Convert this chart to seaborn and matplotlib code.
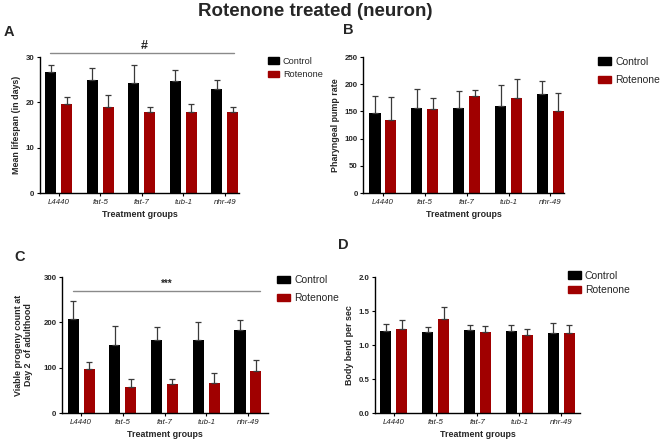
import numpy as np
import pandas as pd
import matplotlib
matplotlib.use("Agg")
import matplotlib.pyplot as plt
import seaborn as sns
from matplotlib.patches import Patch

sns.set_theme(style="ticks")
plt.rcParams["font.family"] = ["Liberation Sans", "DejaVu Sans"]

# ------------------------------
# Data
# ------------------------------
groups = ["L4440", "fat-5", "fat-7", "tub-1", "nhr-49"]
treatments = ["Control", "Rotenone"]
colors = {"Control": "#000000", "Rotenone": "#A00000"}

# A - mean lifespan
lifespan_ctrl = [26.7, 25.0, 24.3, 24.6, 22.9]
lifespan_ctrl_err = [1.5, 2.6, 3.9, 2.5, 2.0]
lifespan_rot = [19.6, 19.0, 17.9, 17.9, 17.9]
lifespan_rot_err = [1.6, 2.6, 1.1, 1.8, 1.1]

# B - pharyngeal pumping
pump_ctrl = [148, 156, 157, 160, 182]
pump_ctrl_err = [30, 36, 31, 39, 23]
pump_rot = [135, 155, 178, 175, 151]
pump_rot_err = [41, 19, 11, 35, 33]

# C - viable progeny
progeny_ctrl = [207, 151, 160, 160, 182]
progeny_ctrl_err = [41, 40, 30, 40, 24]
progeny_rot = [96, 57, 65, 66, 92]
progeny_rot_err = [16, 18, 11, 23, 25]

# D - body bends
bend_ctrl = [1.20, 1.19, 1.22, 1.21, 1.17]
bend_ctrl_err = [0.11, 0.08, 0.07, 0.08, 0.15]
bend_rot = [1.24, 1.38, 1.19, 1.14, 1.18]
bend_rot_err = [0.13, 0.18, 0.09, 0.09, 0.11]


def make_df(ctrl, ctrl_err, rot, rot_err):
    return pd.DataFrame({
        "group": groups * 2,
        "treatment": ["Control"] * 5 + ["Rotenone"] * 5,
        "value": list(ctrl) + list(rot),
        "err": list(ctrl_err) + list(rot_err),
    })


def draw_panel(ax, df, ylabel, ylim, yticks, xlim, fmt="%d", ypad=3):
    sns.barplot(data=df, x="group", y="value", hue="treatment", order=groups,
                hue_order=treatments, palette=colors, saturation=1,
                width=0.76, gap=0.3, linewidth=0, errorbar=None, legend=False, ax=ax)
    # one-sided (upper) error bars with caps
    for cont, trt in zip(ax.containers, treatments):
        sub = df[df["treatment"] == trt].set_index("group").loc[groups]
        xs = [p.get_x() + p.get_width() / 2 for p in cont.patches]
        ax.errorbar(xs, sub["value"], yerr=[np.zeros(5), sub["err"]],
                    fmt="none", ecolor="#3a3a3a", elinewidth=0.9,
                    capsize=2.4, capthick=0.9, zorder=1)
    ax.set_ylim(*ylim)
    ax.set_yticks(yticks)
    ax.set_yticklabels([fmt % t for t in yticks], fontsize=5.7, fontweight="bold")
    ax.set_xlim(*xlim)
    ax.set_xticks(range(5))
    ax.set_xticklabels(groups, fontsize=5.7, style="italic", color="#222222")
    ax.set_xlabel("Treatment groups", fontsize=6.4, fontweight="bold", labelpad=3.5)
    ax.set_ylabel(ylabel, fontsize=6.4, fontweight="bold", labelpad=ypad)
    sns.despine(ax=ax)
    for s in ["left", "bottom"]:
        ax.spines[s].set_linewidth(1.0)
        ax.spines[s].set_color("black")
    ax.tick_params(axis="both", length=2.5, width=0.8, pad=1.5, color="black")


def add_legend(ax, x, y, size, spacing):
    handles = [Patch(facecolor=colors[t], edgecolor=colors[t]) for t in treatments]
    ax.legend(handles, treatments, loc="upper left", bbox_to_anchor=(x, y),
              bbox_transform=fig.transFigure, frameon=False, fontsize=size,
              handlelength=1.25, handleheight=0.7, handletextpad=0.4,
              labelspacing=spacing, borderpad=0, borderaxespad=0)


fig = plt.figure(figsize=(6.61, 4.42), dpi=100)

axA = fig.add_axes([0.0605, 0.5633, 0.301, 0.3077])
axB = fig.add_axes([0.5496, 0.5633, 0.304, 0.3077])
axC = fig.add_axes([0.0938, 0.0656, 0.3116, 0.3077])
axD = fig.add_axes([0.5673, 0.0656, 0.3101, 0.3077])

draw_panel(axA, make_df(lifespan_ctrl, lifespan_ctrl_err, lifespan_rot, lifespan_rot_err),
           "Mean lifespan (in days)", (0, 30), [0, 10, 20, 30], (-0.45, 4.34))
draw_panel(axB, make_df(pump_ctrl, pump_ctrl_err, pump_rot, pump_rot_err),
           "Pharyngeal pump rate", (0, 250), [0, 50, 100, 150, 200, 250], (-0.47, 4.33))
draw_panel(axC, make_df(progeny_ctrl, progeny_ctrl_err, progeny_rot, progeny_rot_err),
           "Viable progeny count at\nDay 2  of adulthood", (0, 300), [0, 100, 200, 300],
           (-0.46, 4.48), ypad=7)
draw_panel(axD, make_df(bend_ctrl, bend_ctrl_err, bend_rot, bend_rot_err),
           "Body bend per sec", (0, 2.0), [0, 0.5, 1.0, 1.5, 2.0], (-0.45, 4.45), fmt="%.1f")

# significance bars
axA.plot([-0.21, 4.23], [30.9, 30.9], color="#8a8a8a", lw=1.0, clip_on=False)
axA.text(2.07, 32.4, "#", ha="center", va="center", fontsize=9, fontweight="bold")
axC.plot([-0.20, 4.29], [269, 269], color="#8a8a8a", lw=1.0, clip_on=False)
axC.text(2.06, 286, "***", ha="center", va="center", fontsize=7, fontweight="bold")

add_legend(axA, 0.405, 0.872, 6.6, 0.5)
add_legend(axB, 0.905, 0.872, 7.5, 0.8)
add_legend(axC, 0.419, 0.378, 7.5, 0.8)
add_legend(axD, 0.859, 0.388, 7.5, 0.45)

for lab, x, y in [("A", 0.006, 0.928), ("B", 0.519, 0.932), ("C", 0.022, 0.419), ("D", 0.511, 0.446)]:
    fig.text(x, y, lab, fontsize=10.5, fontweight="bold", va="center", ha="left")

fig.text(0.477, 0.973, "Rotenone treated (neuron)", fontsize=13.5, fontweight="bold",
         ha="center", va="center")

fig.savefig("out.png", dpi=100, facecolor="white")
